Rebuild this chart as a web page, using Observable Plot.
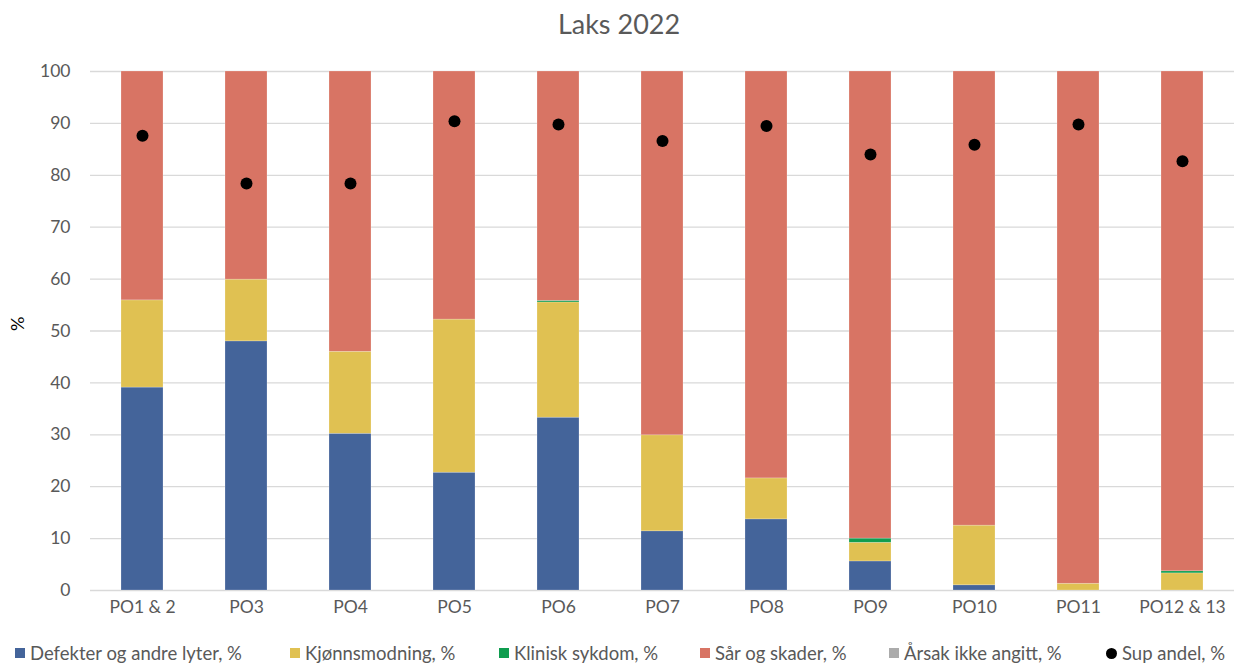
<!DOCTYPE html>
<html>
<head>
<meta charset="utf-8">
<script src="https://cdn.jsdelivr.net/npm/d3@7"></script>
<script src="https://cdn.jsdelivr.net/npm/@observablehq/plot@0.6"></script>
<style>
  body { margin: 0; background: #fff; font-family: Lato, "Open Sans", sans-serif; color: #595959; }
  #wrap { width: 1238px; height: 666px; position: relative; overflow: hidden; }
  #title { height: 48px; line-height: 48px; text-align: center; font-size: 27px; color: #595959; }
  #legend { position: relative; height: 38px; font-size: 18.5px; }
  .li { position: absolute; top: 14px; white-space: nowrap; display: flex; align-items: center; }
  .sw { width: 10px; height: 10px; margin-right: 5px; display: inline-block; }
  .dot { width: 11px; height: 11px; border-radius: 50%; background: #000; margin-right: 5px; display: inline-block; }
</style>
</head>
<body>
<div id="wrap">
  <div id="title">Laks 2022</div>
  <div id="chart"></div>
  <div id="legend"></div>
</div>
<script>
const categories = ["PO1 & 2","PO3","PO4","PO5","PO6","PO7","PO8","PO9","PO10","PO11","PO12 & 13"];
const seriesNames = ["Defekter og andre lyter, %","Kjønnsmodning, %","Klinisk sykdom, %","Sår og skader, %","Årsak ikke angitt, %"];
const seriesColors = ["#44649a","#e0c152","#0f9d4f","#d87464","#ababab"];
const defekter = [39.1, 48.0, 30.2, 22.7, 33.3, 11.4, 13.7, 5.6, 1.0, 0, 0];
const kjonnsmodning = [16.8, 11.9, 15.8, 29.5, 22.2, 18.5, 7.9, 3.6, 11.5, 1.3, 3.3];
const kliniskSykdom = [0, 0, 0, 0, 0.3, 0, 0, 0.8, 0, 0, 0.4];
const sarOgSkader = [44.1, 40.1, 54.0, 47.8, 44.2, 70.1, 78.4, 90.0, 87.5, 98.7, 96.3];
const arsakIkkeAngitt = [0, 0, 0, 0, 0, 0, 0, 0, 0, 0, 0];
const supAndel = [87.6, 78.4, 78.4, 90.4, 89.8, 86.6, 89.5, 84.0, 85.9, 89.8, 82.7];
const supName = "Sup andel, %";
const yTicks = [0,10,20,30,40,50,60,70,80,90,100];

const seriesValues = [defekter, kjonnsmodning, kliniskSykdom, sarOgSkader, arsakIkkeAngitt];
const tidy = [];
seriesValues.forEach((vals, si) => {
  vals.forEach((v, ci) => tidy.push({cat: categories[ci], series: seriesNames[si], value: v}));
});
const dots = categories.map((c, i) => ({cat: c, value: supAndel[i]}));

const chart = Plot.plot({
  width: 1238,
  height: 580,
  marginTop: 23,
  marginBottom: 38,
  marginLeft: 90,
  marginRight: 4,
  style: { fontSize: "17.5px", fontFamily: "Lato, 'Open Sans', sans-serif", color: "#595959", background: "#fff" },
  x: { domain: categories, paddingInner: 0.6, paddingOuter: 0.3, label: null },
  y: { domain: [0, 100], ticks: yTicks, label: null },
  color: { domain: seriesNames, range: seriesColors },
  marks: [
    Plot.gridY(yTicks, { stroke: "#d9d9d9", strokeOpacity: 1, strokeWidth: 1.3 }),
    Plot.barY(tidy, { x: "cat", y: "value", fill: "series", order: seriesNames, stroke: "#fff", strokeOpacity: 0.35, strokeWidth: 0.6 }),
    Plot.dot(dots, { x: "cat", y: "value", r: 6, fill: "#000" }),
    Plot.axisY(yTicks, { tickSize: 0, tickPadding: 20, label: null }),
    Plot.axisX({ tickSize: 0, tickPadding: 10, label: null }),
    Plot.text(["%"], { frameAnchor: "left", dx: -72, rotate: -90, fontSize: 18, fill: "#000" })
  ]
});
document.getElementById("chart").appendChild(chart);

const legend = document.getElementById("legend");
const legendX = [15, 290, 499, 700, 889];
seriesNames.forEach((name, i) => {
  const d = document.createElement("div");
  d.className = "li";
  d.style.left = legendX[i] + "px";
  d.innerHTML = `<span class="sw" style="background:${seriesColors[i]}"></span>${name}`;
  legend.appendChild(d);
});
const ds = document.createElement("div");
ds.className = "li";
ds.style.left = "1106px";
ds.innerHTML = `<span class="dot"></span>${supName}`;
legend.appendChild(ds);
</script>
</body>
</html>
